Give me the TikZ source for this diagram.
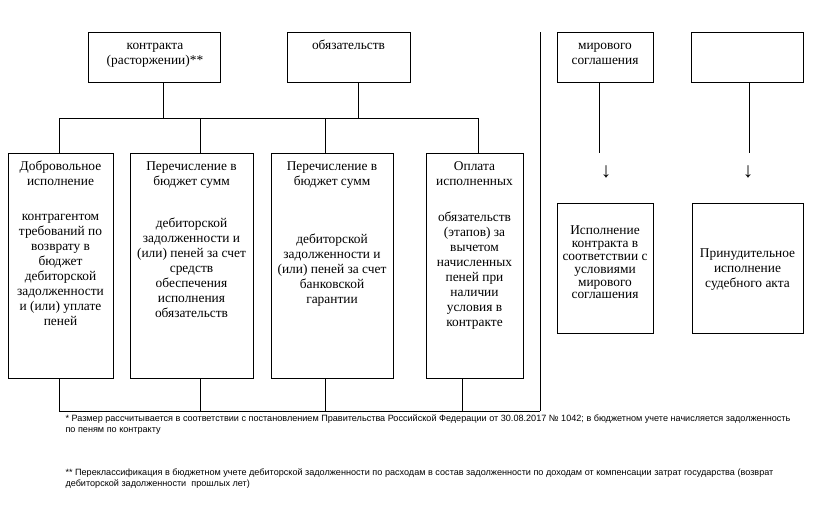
\documentclass[tikz,border=0pt]{standalone}
\usepackage{fontspec}
\setmainfont{Liberation Serif}
\newfontfamily\fnfont{Liberation Sans}
\begin{document}
\begin{tikzpicture}[x=1pt,y=-1pt,line width=1pt,
  box/.style={draw,inner sep=0pt},
  txt/.style={font=\fontsize{13.4}{15}\selectfont,align=center,inner sep=0pt,anchor=north},
  txtb/.style={font=\fontsize{13.4}{12.8}\selectfont,align=center,inner sep=0pt,anchor=north},
  fn/.style={font=\fnfont\fontsize{9.1}{11}\selectfont,align=left,inner sep=0pt,anchor=north west},
  arr/.style={font=\fontsize{21}{21}\selectfont,inner sep=0pt}]
\useasboundingbox (0,0) rectangle (826,506);
% top boxes
\node[box,minimum width=132pt,minimum height=50pt] (b1) at (154,57) {};
\node[box,minimum width=123pt,minimum height=50pt] (b2) at (348.5,57) {};
\node[box,minimum width=96pt,minimum height=50pt] (b3) at (605,57) {};
\node[box,minimum width=112pt,minimum height=50pt] (b4) at (747,57) {};
\node[txt] (t1) at (155,38) {\strut контракта\\\strut(расторжении)**};
\node[txt] (t2) at (348.5,38) {\strut обязательств};
\node[txt] (t3) at (605,38) {\strut мирового\\\strut соглашения};
% middle boxes
\node[box,minimum width=105pt,minimum height=225pt] (A) at (60.5,265.5) {};
\node[box,minimum width=123pt,minimum height=225pt] (B) at (191.5,265.5) {};
\node[box,minimum width=122pt,minimum height=225pt] (C) at (332,265.5) {};
\node[box,minimum width=97pt,minimum height=225pt] (D) at (474.5,265.5) {};
\node[txt] (tA1) at (60.5,159) {\strut Добровольное\\\strut исполнение};
\node[txt] (tA2) at (60.5,209) {\strut контрагентом\\\strut требований по\\\strut возврату в\\\strut бюджет\\\strut дебиторской\\\strut задолженности\\\strut и (или) уплате\\\strut пеней};
\node[txt] (tB1) at (191.5,159) {\strut Перечисление в\\\strut бюджет сумм};
\node[txt] (tB2) at (191.5,216) {\strut дебиторской\\\strut задолженности и\\\strut (или) пеней за счет\\\strut средств\\\strut обеспечения\\\strut исполнения\\\strut обязательств};
\node[txt] (tC1) at (332,159) {\strut Перечисление в\\\strut бюджет сумм};
\node[txt] (tC2) at (332,232) {\strut дебиторской\\\strut задолженности и\\\strut (или) пеней за счет\\\strut банковской\\\strut гарантии};
\node[txt] (tD1) at (474.5,159) {\strut Оплата\\\strut исполненных};
\node[txt] (tD2) at (474.5,210) {\strut обязательств\\\strut (этапов) за\\\strut вычетом\\\strut начисленных\\\strut пеней при\\\strut наличии\\\strut условия в\\\strut контракте};
% right lower boxes
\node[box,minimum width=96pt,minimum height=130pt] (E) at (605,268) {};
\node[box,minimum width=111pt,minimum height=130pt] (F) at (747.5,268) {};
\node[txtb] (tE) at (605,225.5) {\strut Исполнение\\\strut контракта в\\\strut соответствии с\\\strut условиями\\\strut мирового\\\strut соглашения};
\node[txt] (tF) at (747.5,246) {\strut Принудительное\\\strut исполнение\\\strut судебного акта};
% connectors top-left
\coordinate (j1) at (163,118);
\coordinate (j2) at (358,118);
\coordinate (hl) at (59,118);
\coordinate (hb) at (200,118);
\coordinate (hc) at (325,118);
\coordinate (hr) at (478,118);
\draw (b1.south -| j1) -- (j1);
\draw (b2.south -| j2) -- (j2);
\draw (hl) -- (hr);
\draw (hl) -- (A.north -| hl);
\draw (hb) -- (B.north -| hb);
\draw (hc) -- (C.north -| hc);
\draw (hr) -- (D.north -| hr);
% bottom bar
\coordinate (bl) at (59,411);
\coordinate (bb) at (200,411);
\coordinate (bc) at (325,411);
\coordinate (bd) at (462,411);
\coordinate (br) at (540,411);
\coordinate (st) at (540,32);
\draw (A.south -| bl) -- (bl) -- (br);
\draw (B.south -| bb) -- (bb);
\draw (C.south -| bc) -- (bc);
\draw (D.south -| bd) -- (bd);
\draw (st) -- (br);
% right connectors
\coordinate (e3) at (599,153);
\coordinate (e4) at (749,153);
\draw (b3.south -| e3) -- (e3);
\draw (b4.south -| e4) -- (e4);
\node[arr] (ar3) at (606,172) {↓};
\node[arr] (ar4) at (748,172) {↓};
% footnotes
\node[fn] (fn1) at (65,413.3) {\strut * Размер рассчитывается в соответствии с постановлением Правительства Российской Федерации от 30.08.2017 № 1042; в бюджетном учете начисляется задолженность\\\strut по пеням по контракту};
\node[fn] (fn2) at (65,467.3) {\strut ** Переклассификация в бюджетном учете дебиторской задолженности по расходам в состав задолженности по доходам от компенсации затрат государства (возврат\\\strut дебиторской задолженности \ прошлых лет)};
\end{tikzpicture}
\end{document}
